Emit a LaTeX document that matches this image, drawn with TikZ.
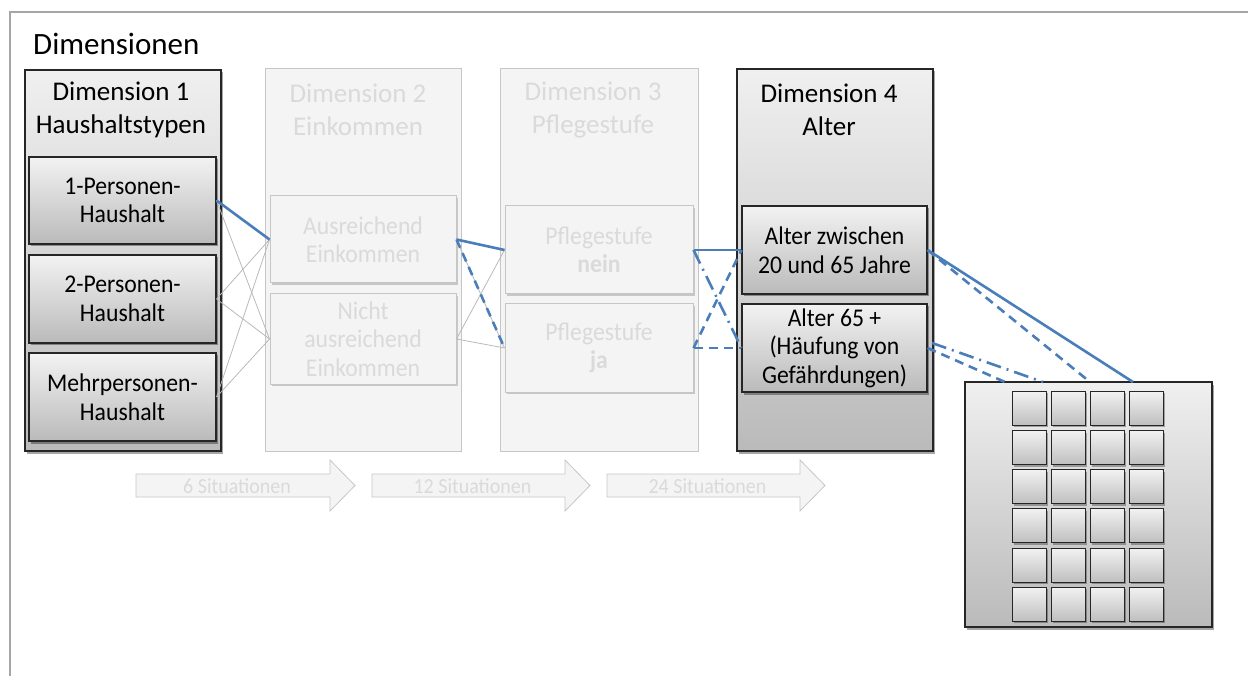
\documentclass[tikz,border=0pt]{standalone}
\usepackage{fontspec}
\setmainfont{Carlito}
\newfontfamily\itemfam[FakeStretch=0.93]{Carlito}
\usetikzlibrary{shadows,calc}
\definecolor{blueline}{HTML}{4A7EBB}
\definecolor{framegray}{HTML}{A6A6A6}
\definecolor{fadetext}{HTML}{DADADA}
\definecolor{fadefill}{HTML}{F4F4F4}
\definecolor{fadedraw}{HTML}{C6C6C6}
\newcommand\dimtitlefont{\fontsize{27}{33}\selectfont}
\newcommand\itemtextfont{\itemfam\fontsize{25.5}{28.5}\selectfont}
\newcommand\arrowtextfont{\itemfam\fontsize{21.5}{24}\selectfont}
\tikzset{
  base/.style={rectangle, inner sep=0pt, align=center},
  shad/.style={drop shadow={shadow xshift=2pt, shadow yshift=-2.5pt, opacity=0.35, fill=black}},
  dimbox/.style={base, draw=black!85, line width=1.1pt, top color=black!6, bottom color=black!27, shad},
  itembox/.style={base, draw=black!85, line width=1.1pt, top color=black!5, bottom color=black!27, shad, font=\itemtextfont},
  fadedim/.style={base, draw=fadedraw, line width=1pt, fill=fadefill},
  fadeitem/.style={base, draw=fadedraw, line width=1pt, fill=fadefill, drop shadow={shadow xshift=1.5pt, shadow yshift=-2pt, opacity=0.18, fill=black}, text=fadetext, font=\itemtextfont},
  dimtitle/.style={align=center, font=\dimtitlefont, inner sep=0pt},
  gline/.style={draw=black!27, line width=0.8pt},
  bline/.style={draw=blueline, line width=2.6pt},
  bdash/.style={bline, dash pattern=on 9pt off 6pt},
  bdashdot/.style={bline, dash pattern=on 15pt off 6pt on 2pt off 6pt},
  sqbox/.style={base, draw=black!85, line width=1pt, top color=black!5, bottom color=black!25, minimum width=34pt, minimum height=34pt, drop shadow={shadow xshift=1.5pt, shadow yshift=-2pt, opacity=0.3, fill=black}},
  arrowshape/.style={draw=black!22, fill=fadefill, line width=0.8pt},
  arrowtext/.style={text=fadetext, font=\arrowtextfont, inner sep=0pt}
}
\begin{document}
\begin{tikzpicture}[x=1pt,y=-1pt]
\useasboundingbox (0,0) rectangle (1248,676);
\fill[white] (0,0) rectangle (1248,676);
% outer frame
\draw[framegray, line width=2pt] (10,676) -- (10,12) -- (1248,12);
\node[anchor=base west, font=\fontsize{31}{36}\selectfont, inner sep=0pt] (ttl) at (33,55) {Dimensionen};

% Dimension 1
\node[dimbox, minimum width=196pt, minimum height=381pt] (d1) at (123,260.5) {};
\node[dimtitle] (d1t) at (121,110) {Dimension 1\\Haushaltstypen};
\node[itembox, minimum width=187pt, minimum height=87pt] (p1) at (122.5,200.5) {1-Personen-\\Haushalt};
\node[itembox, minimum width=187pt, minimum height=88pt] (p2) at (122.5,299) {2-Personen-\\Haushalt};
\node[itembox, minimum width=187pt, minimum height=88pt] (pm) at (122.5,397) {Mehrpersonen-\\Haushalt};

% Dimension 2
\node[fadedim, minimum width=196pt, minimum height=382pt] (d2) at (363,260) {};
\node[dimtitle, text=fadetext] (d2t) at (358,110) {Dimension 2\\Einkommen};
\node[fadeitem, minimum width=186pt, minimum height=87pt] (ea) at (363,239.5) {Ausreichend\\Einkommen};
\node[fadeitem, minimum width=186pt, minimum height=90pt] (en) at (363,339) {Nicht\\ausreichend\\Einkommen};

% Dimension 3
\node[fadedim, minimum width=198pt, minimum height=382pt] (d3) at (599,260) {};
\node[dimtitle, text=fadetext] (d3t) at (593,110) {Dimension 3\\Pflegestufe};
\node[fadeitem, minimum width=188pt, minimum height=88pt] (pn) at (599,250) {Pflegestufe\\\textbf{nein}};
\node[fadeitem, minimum width=188pt, minimum height=88pt] (pj) at (599,348) {Pflegestufe\\\textbf{ja}};

% Dimension 4
\node[dimbox, minimum width=196pt, minimum height=382pt] (d4) at (835,260) {};
\node[dimtitle] (d4t) at (829,110) {Dimension 4\\Alter};
\node[itembox, minimum width=185pt, minimum height=88pt] (az) at (834.5,250) {Alter zwischen\\20 und 65 Jahre};
\node[itembox, minimum width=185pt, minimum height=88pt] (ao) at (834.5,348) {Alter 65 +\\(Häufung von\\Gefährdungen)};

% Result box
\node[dimbox, minimum width=247pt, minimum height=245pt] (res) at (1088.5,504.5) {};
\foreach \c/\x in {1/1029,2/1068,3/1107,4/1146.5}{
  \foreach \r/\y in {1/408,2/447.5,3/486.5,4/525.5,5/565,6/604}{
    \node[sqbox] (sq\r\c) at (\x,\y) {};
  }
}

% Situation arrows
\foreach \i/\xa/\xb/\xc/\lab in {1/136/330/355/6 Situationen, 2/372/565/590/12 Situationen, 3/607/800/825/24 Situationen}{
  \draw[arrowshape] (\xa,474) -- (\xb,474) -- (\xb,460) -- (\xc,485.5) -- (\xb,511) -- (\xb,497) -- (\xa,497) -- cycle;
  \node[arrowtext] (sit\i) at ({(\xa+\xb)/2+4},486) {\lab};
}

% grey connectors
\foreach \s in {p1,p2,pm}{
  \foreach \t in {ea,en}{
    \draw[gline] (\s.east) -- (\t.west);
  }
}
\foreach \s in {ea,en}{
  \foreach \t in {pn,pj}{
    \draw[gline] (\s.east) -- (\t.west);
  }
}

% blue connectors
\draw[bline] (p1.east) -- (ea.west);
\draw[bline] (ea.east) -- (pn.west);
\draw[bdash] (ea.east) -- (pj.west);
\draw[bline] (pn.east) -- (az.west);
\draw[bdashdot] (pn.east) -- (ao.west);
\draw[bdash] (pj.east) -- (az.west);
\draw[bdash] (pj.east) -- (ao.west);

\coordinate (r1) at (1133,382);
\coordinate (r2) at (1090,382);
\coordinate (r3) at (1005,382);
\coordinate (r4) at (1043,382);
\coordinate (s4) at (932,343);
\draw[bline] (az.east) -- (r1);
\draw[bdash] (az.east) -- (r2);
\draw[bdash] (ao.east) -- (r3);
\draw[bdashdot] (s4) -- (r4);
\end{tikzpicture}
\end{document}
